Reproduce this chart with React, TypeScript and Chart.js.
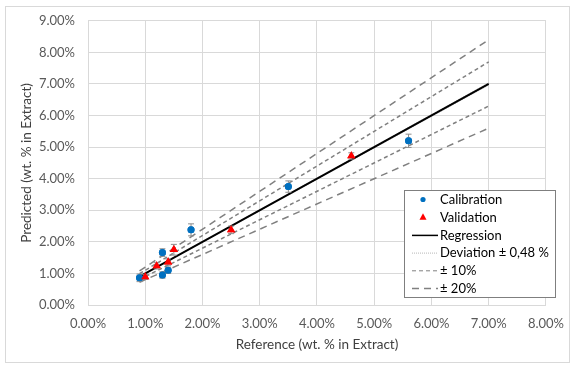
import React, { useEffect, useRef } from "react";
import { Chart, registerables } from "chart.js";

Chart.register(...registerables);

// ---- data (values in wt. %) ----
const calibX = [0.9, 1.3, 1.4, 1.3, 1.8, 3.5, 5.6];
const calibY = [0.86, 0.95, 1.1, 1.66, 2.38, 3.75, 5.2];
const calibErr = [0.12, 0.1, 0.1, 0.12, 0.19, 0.18, 0.21];

const validX = [1.0, 1.2, 1.4, 1.5, 2.5, 4.6];
const validY = [0.89, 1.24, 1.36, 1.75, 2.38, 4.72];
const validErr = [0.08, 0.1, 0.1, 0.17, 0.12, 0.1];

const lineX = [0.9, 7.0];
const regressionY = [0.9, 7.0];
const devUpY = [0.9043, 7.0336];
const devLoY = [0.8957, 6.9664];
const plus10Y = [0.99, 7.7];
const minus10Y = [0.81, 6.3];
const plus20Y = [1.08, 8.4];
const minus20Y = [0.72, 5.6];

const xTicks = [0, 1, 2, 3, 4, 5, 6, 7, 8];
const yTicks = [0, 1, 2, 3, 4, 5, 6, 7, 8, 9];

const FONT = "Lato, 'Open Sans', sans-serif";

const pts = (xs: number[], ys: number[], errs?: number[]) =>
  xs.map((x, i) => ({ x, y: ys[i], err: errs ? errs[i] : 0 }));

const errorBarPlugin = {
  id: "errorBars",
  afterDatasetsDraw(chart: any) {
    const ctx = chart.ctx;
    const xs = chart.scales.x;
    const ys = chart.scales.y;
    ctx.save();
    chart.data.datasets.forEach((ds: any) => {
      if (!ds.errorBars) return;
      ds.data.forEach((p: any) => {
        const px = xs.getPixelForValue(p.x);
        const top = ys.getPixelForValue(p.y + p.err);
        const bot = ys.getPixelForValue(p.y - p.err);
        ctx.strokeStyle = "#8c8c8c";
        ctx.lineWidth = 1;
        ctx.beginPath();
        ctx.moveTo(px, top);
        ctx.lineTo(px, bot);
        ctx.moveTo(px - 3, top);
        ctx.lineTo(px + 3, top);
        ctx.moveTo(px - 3, bot);
        ctx.lineTo(px + 3, bot);
        ctx.stroke();
      });
    });
    ctx.restore();
    chart.data.datasets.forEach((ds: any, di: number) => {
      if (!ds.errorBars) return;
      const meta = chart.getDatasetMeta(di);
      meta.data.forEach((el: any) => el.draw(chart.ctx, chart.chartArea));
    });
  },
};

const frameLegendPlugin = {
  id: "frameLegend",
  afterDraw(chart: any) {
    const ctx = chart.ctx;
    ctx.save();
    ctx.strokeStyle = "#d9d9d9";
    ctx.lineWidth = 1;
    ctx.strokeRect(5.5, 6.5, 564, 356);

    const lx = 404.5, ly = 190.5, lw = 151, lh = 107;
    ctx.fillStyle = "#ffffff";
    ctx.fillRect(lx, ly, lw, lh);
    ctx.strokeStyle = "#7f7f7f";
    ctx.strokeRect(lx, ly, lw, lh);

    const items = chart.data.datasets.filter((d: any) => d.legendText);
    const x0 = 412, x1 = 438, tx = 440;
    ctx.font = `13px ${FONT}`;
    ctx.textBaseline = "middle";
    items.forEach((ds: any, i: number) => {
      const y = 199.5 + i * 17.7;
      if (ds.showLine === false) {
        ctx.fillStyle = ds.backgroundColor;
        const cx = 423;
        if (ds.pointStyle === "triangle") {
          ctx.beginPath();
          ctx.moveTo(cx, y - 4);
          ctx.lineTo(cx + 3.5, y + 2.5);
          ctx.lineTo(cx - 3.5, y + 2.5);
          ctx.closePath();
          ctx.fill();
        } else {
          ctx.beginPath();
          ctx.arc(cx, y, 2.6, 0, Math.PI * 2);
          ctx.fill();
        }
      } else {
        ctx.strokeStyle = ds.borderColor;
        ctx.lineWidth = ds.legendLineWidth || ds.borderWidth;
        ctx.setLineDash(ds.borderDash || []);
        ctx.beginPath();
        ctx.moveTo(x0, y + 0.5);
        ctx.lineTo(x1, y + 0.5);
        ctx.stroke();
        ctx.setLineDash([]);
      }
      ctx.fillStyle = "#000000";
      ctx.fillText(ds.legendText, tx, y + 0.5);
    });
    ctx.restore();
  },
};

export default function App() {
  const ref = useRef<HTMLCanvasElement>(null);

  useEffect(() => {
    document.body.style.margin = "0";
    const lineDs = (
      label: string,
      ys: number[],
      color: string,
      width: number,
      dash: number[],
      legendText?: string,
      legendLineWidth?: number
    ) => ({
      type: "line" as const,
      label,
      legendText,
      legendLineWidth,
      data: pts(lineX, ys),
      borderColor: color,
      borderWidth: width,
      borderDash: dash,
      pointRadius: 0,
      showLine: true,
      fill: false,
    });

    const chart = new Chart(ref.current!, {
      type: "scatter",
      data: {
        datasets: [
          {
            label: "Calibration",
            legendText: "Calibration",
            data: pts(calibX, calibY, calibErr),
            errorBars: true,
            showLine: false,
            backgroundColor: "#0070c0",
            borderColor: "#0070c0",
            pointStyle: "circle",
            pointRadius: 3.5,
            borderWidth: 0,
            order: 0,
          } as any,
          {
            label: "Validation",
            legendText: "Validation",
            data: pts(validX, validY, validErr),
            errorBars: true,
            showLine: false,
            backgroundColor: "#ff0000",
            borderColor: "#ff0000",
            pointStyle: "triangle",
            pointRadius: 4.7,
            borderWidth: 0,
            order: 0,
          } as any,
          lineDs("Regression", regressionY, "#000000", 2, [], "Regression", 1.5),
          lineDs("Deviation +", devUpY, "#a6a6a6", 1, [1, 1], "Deviation ± 0,48 %", 0.8),
          lineDs("Deviation -", devLoY, "#a6a6a6", 1, [1, 1]),
          lineDs("+10%", plus10Y, "#808080", 1.5, [4, 3], "± 10%", 1),
          lineDs("-10%", minus10Y, "#808080", 1.5, [4, 3]),
          lineDs("+20%", plus20Y, "#808080", 1.5, [7, 5], "± 20%", 1.3),
          lineDs("-20%", minus20Y, "#808080", 1.5, [7, 5]),
        ],
      },
      options: {
        animation: false,
        responsive: false,
        maintainAspectRatio: false,
        layout: { padding: { left: 19, right: 27, top: 18, bottom: 12 } },
        plugins: {
          legend: { display: false },
          tooltip: { enabled: false },
        },
        scales: {
          x: {
            type: "linear",
            min: 0,
            max: 8,
            afterBuildTicks: (s: any) => {
              s.ticks = xTicks.map((v) => ({ value: v }));
            },
            afterFit: (s: any) => {
              s.height = 48;
            },
            ticks: {
              callback: (v: any) => Number(v).toFixed(2) + "%",
              color: "#595959",
              font: { family: FONT, size: 13 },
              padding: 11,
              maxRotation: 0,
            },
            grid: { color: "#d9d9d9", drawTicks: false },
            border: { display: true, color: "#d9d9d9" },
            title: {
              display: true,
              text: "Reference (wt. % in Extract)",
              color: "#404040",
              font: { family: FONT, size: 13.5 },
              padding: { top: 0, bottom: 0 },
            },
          },
          y: {
            type: "linear",
            min: 0,
            max: 9,
            afterBuildTicks: (s: any) => {
              s.ticks = yTicks.map((v) => ({ value: v }));
            },
            afterFit: (s: any) => {
              s.width = 69;
            },
            ticks: {
              callback: (v: any) => Number(v).toFixed(2) + "%",
              color: "#595959",
              font: { family: FONT, size: 13 },
              padding: 13,
            },
            grid: { color: "#d9d9d9", drawTicks: false },
            border: { display: true, color: "#d9d9d9" },
            title: {
              display: true,
              text: "Predicted (wt. % in Extract)",
              color: "#404040",
              font: { family: FONT, size: 13.5 },
              padding: { top: 0, bottom: 0 },
            },
          },
        },
      } as any,
      plugins: [errorBarPlugin, frameLegendPlugin],
    });
    return () => chart.destroy();
  }, []);

  return (
    <div style={{ position: "absolute", left: 0, top: 0, width: 575, height: 365 }}>
      <canvas ref={ref} width={575} height={365} style={{ width: 575, height: 365 }} />
    </div>
  );
}
